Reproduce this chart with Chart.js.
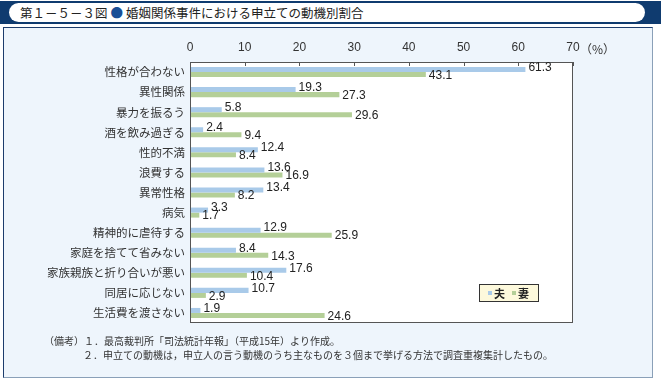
<!DOCTYPE html>
<html>
<head>
<meta charset="utf-8">
<script src="https://cdn.jsdelivr.net/npm/chart.js@4"></script>
<style>
  body { margin: 0; width: 661px; height: 385px; background: #fff; position: relative; overflow: hidden;
         font-family: "Noto Sans CJK JP", sans-serif; }
  #bar { position: absolute; left: 0; top: 1px; width: 661px; height: 23px; background: #0f3b6f; }
  #pill { position: absolute; left: 9px; top: 3px; width: 636px; height: 19px; background: #fff;
          border-radius: 10px; font-size: 12.5px; line-height: 19px; color: #222; padding-left: 11px; box-sizing: border-box; }
  #pill .dot { color: #1a4f96; margin: 0 3px; }
  #box { position: absolute; left: 3px; top: 27px; width: 648px; height: 349px; background: #eef5fc;
         border-left: 1px solid #1c3c6c; border-top: 1px solid #1c3c6c;
         border-right: 1px solid #8aa0b8; border-bottom: 1px solid #8aa0b8; }
  #wrap { position: absolute; left: 0; top: 0; width: 661px; height: 385px; }
  .note { position: absolute; font-size: 10px; color: #333; white-space: nowrap; }
</style>
</head>
<body>
<div id="bar"></div>
<div id="pill">第１－５－３図<span class="dot">●</span>婚姻関係事件における申立ての動機別割合</div>
<div id="box"></div>
<div id="wrap"><canvas id="motive"></canvas></div>
<div class="note" style="left:44px; top:333px;">（備考）１．最高裁判所「司法統計年報」（平成15年）より作成。</div>
<div class="note" style="left:83px; top:347px;">２．申立ての動機は，申立人の言う動機のうち主なものを３個まで挙げる方法で調査重複集計したもの。</div>
<script>
const motives = ['性格が合わない', '異性関係', '暴力を振るう', '酒を飲み過ぎる', '性的不満', '浪費する',
  '異常性格', '病気', '精神的に虐待する', '家庭を捨てて省みない', '家族親族と折り合いが悪い', '同居に応じない', '生活費を渡さない'];
const husband = [61.3, 19.3, 5.8, 2.4, 12.4, 13.6, 13.4, 3.3, 12.9, 8.4, 17.6, 10.7, 1.9];
const wife = [43.1, 27.3, 29.6, 9.4, 8.4, 16.9, 8.2, 1.7, 25.9, 14.3, 10.4, 2.9, 24.6];
const xTicks = [0, 10, 20, 30, 40, 50, 60, 70];

// white plot area, frame, inner ticks, value labels and legend box
const decor = {
  id: 'decor',
  beforeDraw(chart) {
    const a = chart.chartArea, ctx = chart.ctx;
    ctx.save();
    ctx.fillStyle = '#fff';
    ctx.fillRect(a.left, a.top, a.right - a.left, a.bottom - a.top);
    ctx.restore();
  },
  afterDraw(chart) {
    const a = chart.chartArea, ctx = chart.ctx, xs = chart.scales.x;
    ctx.save();
    ctx.strokeStyle = '#555';
    ctx.lineWidth = 1;
    ctx.strokeRect(a.left + 0.5, a.top + 0.5, a.right - a.left - 1, a.bottom - a.top - 1);
    xTicks.forEach(function(v) {
      const px = Math.round(xs.getPixelForValue(v)) + 0.5;
      ctx.beginPath();
      ctx.moveTo(px, a.top);
      ctx.lineTo(px, a.top + 4);
      ctx.stroke();
    });
    // (%) after the last tick
    ctx.fillStyle = '#333';
    ctx.font = '12px "Noto Sans CJK JP"';
    ctx.textBaseline = 'middle';
    ctx.fillText('（%）', xs.getPixelForValue(70) + 7, 49);

    // value labels
    ctx.font = '12px "Liberation Sans", Arial';
    ctx.fillStyle = '#222';
    chart.data.datasets.forEach(function(ds, di) {
      const meta = chart.getDatasetMeta(di);
      meta.data.forEach(function(bar, i) {
        const dy = di === 0 ? -2 : 1;
        ctx.fillText(ds.data[i].toFixed(1), bar.x + 3, bar.y + dy);
      });
    });

    // legend
    const lx = a.right - 94, ly = a.bottom - 39;
    ctx.fillStyle = '#fdf9dc';
    ctx.fillRect(lx, ly, 60, 18);
    ctx.strokeStyle = '#333';
    ctx.strokeRect(lx + 0.5, ly + 0.5, 59, 17);
    ctx.font = 'bold 11px "Noto Sans CJK JP"';
    let cx = lx + 9;
    chart.data.datasets.forEach(function(ds) {
      ctx.fillStyle = ds.backgroundColor;
      ctx.fillRect(cx, ly + 7, 4, 4);
      ctx.fillStyle = '#222';
      ctx.fillText(ds.label, cx + 6, ly + 9.5);
      cx += 24;
    });
    ctx.restore();
  }
};

new Chart(document.getElementById('motive'), {
  type: 'bar',
  data: {
    labels: motives,
    datasets: [
      { label: '夫', data: husband, backgroundColor: '#a9cae9' },
      { label: '妻', data: wife, backgroundColor: '#b4cf98' }
    ]
  },
  options: {
    indexAxis: 'y',
    responsive: true,
    maintainAspectRatio: false,
    animation: false,
    layout: { padding: { left: 0, right: 88, top: 0, bottom: 62 } },
    datasets: { bar: { categoryPercentage: 0.5, barPercentage: 1.0 } },
    plugins: { legend: { display: false }, tooltip: { enabled: false } },
    scales: {
      x: {
        position: 'top',
        min: 0, max: 70,
        afterFit: function(s) { s.height = 62; },
        afterBuildTicks: function(s) { s.ticks = xTicks.map(function(v) { return { value: v }; }); },
        grid: { display: false, drawTicks: false },
        border: { display: false },
        ticks: { padding: 7, color: '#333', font: { family: '"Liberation Sans", Arial', size: 12 } }
      },
      y: {
        afterFit: function(s) { s.width = 190; },
        grid: { display: false, drawTicks: false },
        border: { display: false },
        ticks: { padding: 5, color: '#333', font: { family: '"Noto Sans CJK JP"', size: 11.5 } }
      }
    }
  },
  plugins: [decor]
});
</script>
</body>
</html>
